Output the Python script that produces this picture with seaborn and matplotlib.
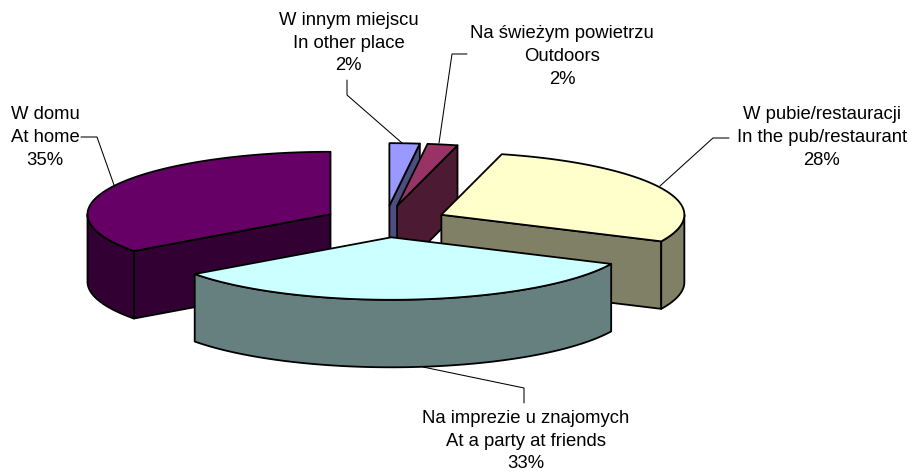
import numpy as np
import matplotlib.pyplot as plt
from matplotlib.patches import Polygon
import seaborn as sns

# Data
labels = ["W innym miejscu\nIn other place\n2%",
          "Na świeżym powietrzu\nOutdoors\n2%",
          "W pubie/restauracji\nIn the pub/restaurant\n28%",
          "Na imprezie u znajomych\nAt a party at friends\n33%",
          "W domu\nAt home\n35%"]
values = [2, 2, 28, 33, 35]
top_colors = ["#9999FF", "#993366", "#FFFFCC", "#CCFFFF", "#660066"]
side_colors = ["#4D4D80", "#4D1A33", "#808066", "#668080", "#330033"]
draw_order = [0, 1, 2, 4, 3]  # back to front
label_pos = [(348.5, 43), (562, 56.5), (822, 137.5), (526, 441), (45, 137.5)]
leaders = [[(347, 80), (347, 95), (402, 143)],
           [(467, 54), (452, 54), (439, 143)],
           [(729, 138), (713, 138), (660, 186)],
           [(524, 403), (524, 388), (423, 367)],
           [(81, 137), (97, 137), (114, 185)]]

# Pie geometry in pixels
cx, cy = 385.5, 221.5
rx, ry = 243, 62.5
depth = 67.5
explode = 0.254

sns.set_theme(style="white")
plt.rcParams['font.family'] = ['Liberation Sans', 'DejaVu Sans']
palette = sns.color_palette(top_colors)
palette_side = sns.color_palette(side_colors)

fig, ax = plt.subplots(figsize=(9.11, 4.72), dpi=100)
fig.subplots_adjust(0, 0, 1, 1)
ax.set_xlim(0, 911)
ax.set_ylim(472, 0)
ax.axis('off')


def point(t, ax0, ay0):
    return ax0 + rx * np.sin(t), ay0 - ry * np.cos(t)


def face(pts, color):
    ax.add_patch(Polygon(pts, closed=True, facecolor=color, edgecolor='black', linewidth=1.3, joinstyle='round'))


edges = np.radians(np.cumsum([0] + values) / sum(values) * 360)
for i in draw_order:
    t1, t2 = edges[i], edges[i + 1]
    mid = (t1 + t2) / 2
    x0 = cx + explode * rx * np.sin(mid)
    y0 = cy - explode * ry * np.cos(mid)
    side = palette_side[i]

    # Cut faces only where they look towards the viewer
    for t, visible in [(t1, np.sin(t1) < -1e-6), (t2, np.sin(t2) > 1e-6)]:
        if visible:
            px, py = point(t, x0, y0)
            face([(x0, y0), (px, py), (px, py + depth), (x0, y0 + depth)], side)

    # Outer rim, front half only
    a, b = max(t1, np.pi / 2), min(t2, 3 * np.pi / 2)
    if a < b:
        ts = np.linspace(a, b, 80)
        xs, ys = point(ts, x0, y0)
        face(list(zip(xs, ys)) + list(zip(xs[::-1], ys[::-1] + depth)), side)

    ts = np.linspace(t1, t2, 120)
    xs, ys = point(ts, x0, y0)
    face([(x0, y0)] + list(zip(xs, ys)), palette[i])

for line in leaders:
    ax.plot(*zip(*line), color='black', lw=0.75)

for text, (x, y) in zip(labels, label_pos):
    ax.text(x, y, text, ha='center', va='center', fontsize=13.3, color='black', linespacing=1.43)

plt.savefig("out.png", dpi=100)
plt.close()
